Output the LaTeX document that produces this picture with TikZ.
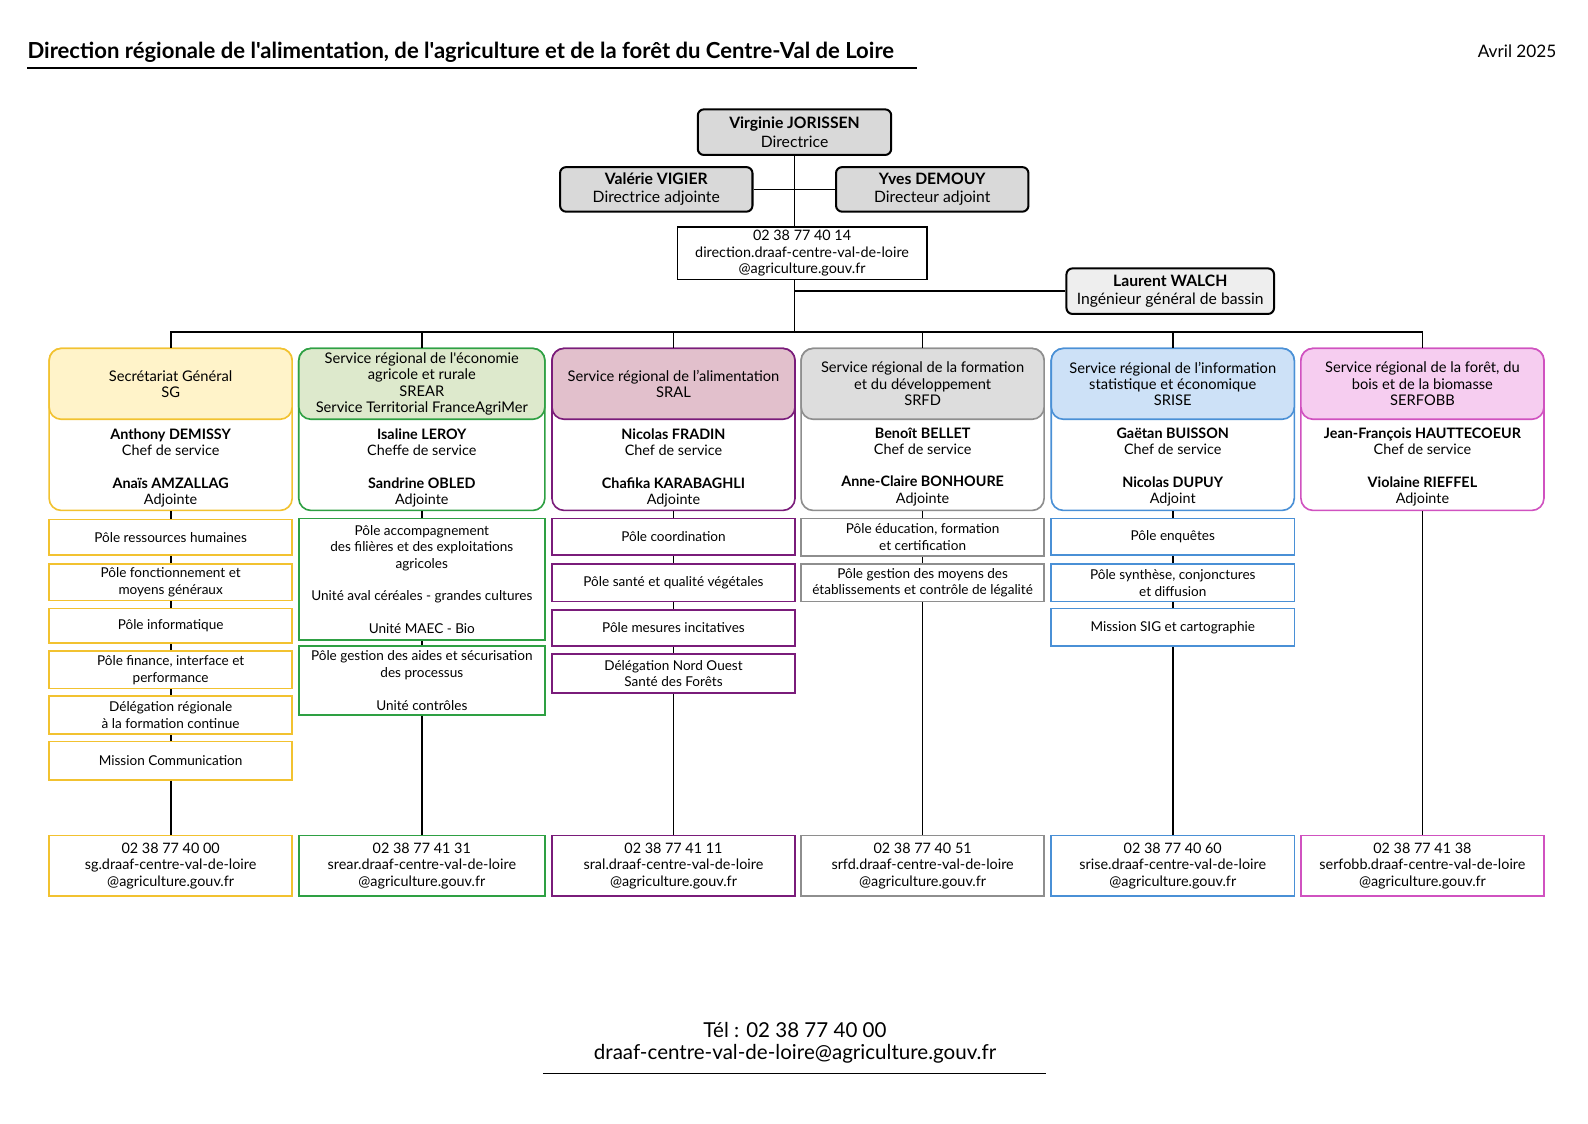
\documentclass[tikz,border=0pt]{standalone}
\usepackage{fontspec}
\setmainfont{Lato}
\newfontfamily\plainlato{Lato}
\usetikzlibrary{positioning}
\definecolor{topgray}{RGB}{217,217,217}
\definecolor{walchgray}{RGB}{238,238,238}
\definecolor{sgline}{RGB}{242,194,48}
\definecolor{sgfill}{RGB}{255,243,201}
\definecolor{srearline}{RGB}{46,160,67}
\definecolor{srearfill}{RGB}{221,233,204}
\definecolor{sralline}{RGB}{122,28,122}
\definecolor{sralfill}{RGB}{226,192,204}
\definecolor{srfdline}{RGB}{142,142,142}
\definecolor{srfdfill}{RGB}{221,221,221}
\definecolor{sriseline}{RGB}{74,144,214}
\definecolor{srisefill}{RGB}{205,225,247}
\definecolor{serfline}{RGB}{208,82,192}
\definecolor{serffill}{RGB}{246,205,240}
\begin{document}
\begin{tikzpicture}[x=1pt,y=-1pt,
  every node/.style={align=center,inner sep=0pt,font=\fontsize{14.2}{16}\selectfont},
  chief/.style={draw,line width=2pt,rounded corners=6pt,fill=topgray,minimum width=191pt,minimum height=45pt,font=\fontsize{15.5}{18}\selectfont},
  svcbox/.style={draw=#1,line width=1.6pt,rounded corners=12pt,fill=white,minimum width=240pt,minimum height=160pt},
  svchead/.style={draw=#1,line width=1.6pt,rounded corners=12pt,minimum width=240pt,minimum height=70pt,anchor=north,font=\fontsize{14.5}{16}\selectfont},
  pole/.style={draw=#1,line width=1.6pt,fill=white,minimum width=240pt,font=\fontsize{13.4}{16.3}\selectfont},
  contact/.style={draw=#1,line width=1.6pt,fill=white,minimum width=240pt,minimum height=60pt},
  link/.style={line width=1.7pt}]
\useasboundingbox[fill=white] (0,0) rectangle (1568,1109);

\node[anchor=base west,font=\fontsize{21.8}{24}\selectfont\plainlato\bfseries] (title) at (27,58) {Direction régionale de l'alimentation, de l'agriculture et de la forêt du Centre-Val de Loire};
\draw[line width=1.8pt] (27,67) -- (905,67);
\node[anchor=base east,font=\fontsize{17}{20}\selectfont] (date) at (1537,57) {Avril 2025};

\node[chief] (dir) at (784.5,130.5) {\textbf{Virginie JORISSEN}\\Directrice};
\node[chief,minimum width=190pt,minimum height=44pt] (vig) at (648,187) {\textbf{Valérie VIGIER}\\Directrice adjointe};
\node[chief,minimum width=190pt,minimum height=44pt] (dem) at (920.5,187) {\textbf{Yves DEMOUY}\\Directeur adjoint};
\node[draw,line width=1.8pt,minimum width=246pt,minimum height=52pt] (dirtel) at (792,250) {02 38 77 40 14\\direction.draaf-centre-val-de-loire\\@agriculture.gouv.fr};
\node[chief,fill=walchgray,minimum width=205pt] (walch) at (1155.5,287.5) {\textbf{Laurent WALCH}\\Ingénieur général de bassin};
\coordinate (bus) at (784.5,328);

\draw[link] (vig.east) -- (dem.west);
\draw[link] (dir.south) -- (dir.south |- dirtel.north);
\draw[link] (dir.south |- dirtel.south) -- (bus);
\draw[link] (dir.south |- walch.west) -- (walch.west);

% SG
\node[svcbox=sgline] (sg) at (168.5,424) {};
\node[svchead=sgline,fill=sgfill] (sghead) at (sg.north) {Secrétariat Général\\SG};
\node (sgtxt) at (168.5,462) {\textbf{Anthony DEMISSY}\\Chef de service\\[16pt]\textbf{Anaïs AMZALLAG}\\Adjointe};
\node[pole=sgline,minimum height=35pt] (sgrh) at (168.5,530.5) {Pôle ressources humaines};
\node[pole=sgline,minimum height=36pt] (sgfct) at (168.5,575) {Pôle fonctionnement et\\moyens généraux};
\node[pole=sgline,minimum height=34pt] (sginfo) at (168.5,618) {Pôle informatique};
\node[pole=sgline,minimum height=37pt] (sgfin) at (168.5,661.5) {Pôle finance, interface et\\performance};
\node[pole=sgline,minimum height=38pt] (sgdrfc) at (168.5,706) {Délégation régionale\\à la formation continue};
\node[pole=sgline,minimum height=38pt] (sgcom) at (168.5,751) {Mission Communication};
\node[contact=sgline] (sgtel) at (168.5,855) {02 38 77 40 00\\sg.draaf-centre-val-de-loire\\@agriculture.gouv.fr};
\draw[link] (sg.south) -- (sgrh.north) (sgrh.south) -- (sgfct.north) (sgfct.south) -- (sginfo.north)
  (sginfo.south) -- (sgfin.north) (sgfin.south) -- (sgdrfc.north) (sgdrfc.south) -- (sgcom.north)
  (sgcom.south) -- (sgtel.north);

% SREAR
\node[svcbox=srearline,minimum width=243pt] (srear) at (416.5,424) {};
\node[svchead=srearline,fill=srearfill,minimum width=243pt] (srearhead) at (srear.north) {\plainlato Service régional de l'économie\\agricole et rurale\\SREAR\\Service Territorial FranceAgriMer};
\node (sreartxt) at (416.5,462) {\textbf{Isaline LEROY}\\Cheffe de service\\[16pt]\textbf{Sandrine OBLED}\\Adjointe};
\node[pole=srearline,minimum width=243pt,minimum height=120pt] (srearacc) at (416.5,572) {Pôle accompagnement\\des filières et des exploitations\\agricoles\\[16pt]Unité aval céréales - grandes cultures\\[16pt]Unité MAEC - Bio};
\node[pole=srearline,minimum width=243pt,minimum height=68pt] (sreargest) at (416.5,672) {Pôle gestion des aides et sécurisation\\des processus\\[16pt]Unité contrôles};
\node[contact=srearline,minimum width=243pt] (sreartel) at (416.5,855) {02 38 77 41 31\\srear.draaf-centre-val-de-loire\\@agriculture.gouv.fr};
\draw[link] (srear.south) -- (srearacc.north) (srearacc.south) -- (sreargest.north) (sreargest.south) -- (sreartel.north);

% SRAL
\node[svcbox=sralline] (sral) at (665,424) {};
\node[svchead=sralline,fill=sralfill] (sralhead) at (sral.north) {Service régional de l’alimentation\\SRAL};
\node (sraltxt) at (665,462) {\textbf{Nicolas FRADIN}\\Chef de service\\[16pt]\textbf{Chafika KARABAGHLI}\\Adjointe};
\node[pole=sralline,minimum height=36pt] (sralcoord) at (665,530) {Pôle coordination};
\node[pole=sralline,minimum height=37pt] (sralsante) at (665,575.5) {Pôle santé et qualité végétales};
\node[pole=sralline,minimum height=36pt] (sralmes) at (665,620) {Pôle mesures incitatives};
\node[pole=sralline,minimum height=38pt] (sraldsf) at (665,665) {Délégation Nord Ouest\\Santé des Forêts};
\node[contact=sralline] (sraltel) at (665,855) {02 38 77 41 11\\sral.draaf-centre-val-de-loire\\@agriculture.gouv.fr};
\draw[link] (sral.south) -- (sralcoord.north) (sralcoord.south) -- (sralsante.north) (sralsante.south) -- (sralmes.north)
  (sralmes.south) -- (sraldsf.north) (sraldsf.south) -- (sraltel.north);

% SRFD
\node[svcbox=srfdline] (srfd) at (911,424) {};
\node[svchead=srfdline,fill=srfdfill] (srfdhead) at (srfd.north) {Service régional de la formation\\et du développement\\SRFD};
\node (srfdtxt) at (911,461) {\textbf{Benoît BELLET}\\Chef de service\\[16pt]\textbf{Anne-Claire BONHOURE}\\Adjointe};
\node[pole=srfdline,minimum height=37pt] (srfdedu) at (911,530.5) {Pôle éducation, formation\\et certification};
\node[pole=srfdline,minimum height=37pt] (srfdmoy) at (911,575.5) {Pôle gestion des moyens des\\établissements et contrôle de légalité};
\node[contact=srfdline] (srfdtel) at (911,855) {02 38 77 40 51\\srfd.draaf-centre-val-de-loire\\@agriculture.gouv.fr};
\draw[link] (srfd.south) -- (srfdedu.north) (srfdedu.south) -- (srfdmoy.north) (srfdmoy.south) -- (srfdtel.north);

% SRISE
\node[svcbox=sriseline] (srise) at (1158,424) {};
\node[svchead=sriseline,fill=srisefill] (srisehead) at (srise.north) {Service régional de l’information\\statistique et économique\\SRISE};
\node (srisetxt) at (1158,461) {\textbf{Gaëtan BUISSON}\\Chef de service\\[16pt]\textbf{Nicolas DUPUY}\\Adjoint};
\node[pole=sriseline,minimum height=36pt] (sriseenq) at (1158,530) {Pôle enquêtes};
\node[pole=sriseline,minimum height=37pt] (srisesyn) at (1158,575.5) {Pôle synthèse, conjonctures\\et diffusion};
\node[pole=sriseline,minimum height=37pt] (srisesig) at (1158,619.5) {Mission SIG et cartographie};
\node[contact=sriseline] (srisetel) at (1158,855) {02 38 77 40 60\\srise.draaf-centre-val-de-loire\\@agriculture.gouv.fr};
\draw[link] (srise.south) -- (sriseenq.north) (sriseenq.south) -- (srisesyn.north) (srisesyn.south) -- (srisesig.north)
  (srisesig.south) -- (srisetel.north);

% SERFOBB
\node[svcbox=serfline] (serf) at (1404.5,424) {};
\node[svchead=serfline,fill=serffill] (serfhead) at (serf.north) {Service régional de la forêt, du\\bois et de la biomasse\\SERFOBB};
\node (serftxt) at (1404.5,461) {\textbf{Jean-François HAUTTECOEUR}\\Chef de service\\[16pt]\textbf{Violaine RIEFFEL}\\Adjointe};
\node[contact=serfline] (serftel) at (1404.5,855) {02 38 77 41 38\\serfobb.draaf-centre-val-de-loire\\@agriculture.gouv.fr};
\draw[link] (serf.south) -- (serftel.north);

\draw[link] (sghead.north) |- (bus) -| (serfhead.north);
\draw[link] (srearhead.north) -- (srearhead.north |- bus);
\draw[link] (sralhead.north) -- (sralhead.north |- bus);
\draw[link] (srfdhead.north) -- (srfdhead.north |- bus);
\draw[link] (srisehead.north) -- (srisehead.north |- bus);

\node[font=\fontsize{20.3}{22}\selectfont] (foot) at (785,1030) {Tél : 02 38 77 40 00\\draaf-centre-val-de-loire@agriculture.gouv.fr};
\draw[line width=1.6pt] (536,1060) -- (1033,1060);
\end{tikzpicture}
\end{document}
